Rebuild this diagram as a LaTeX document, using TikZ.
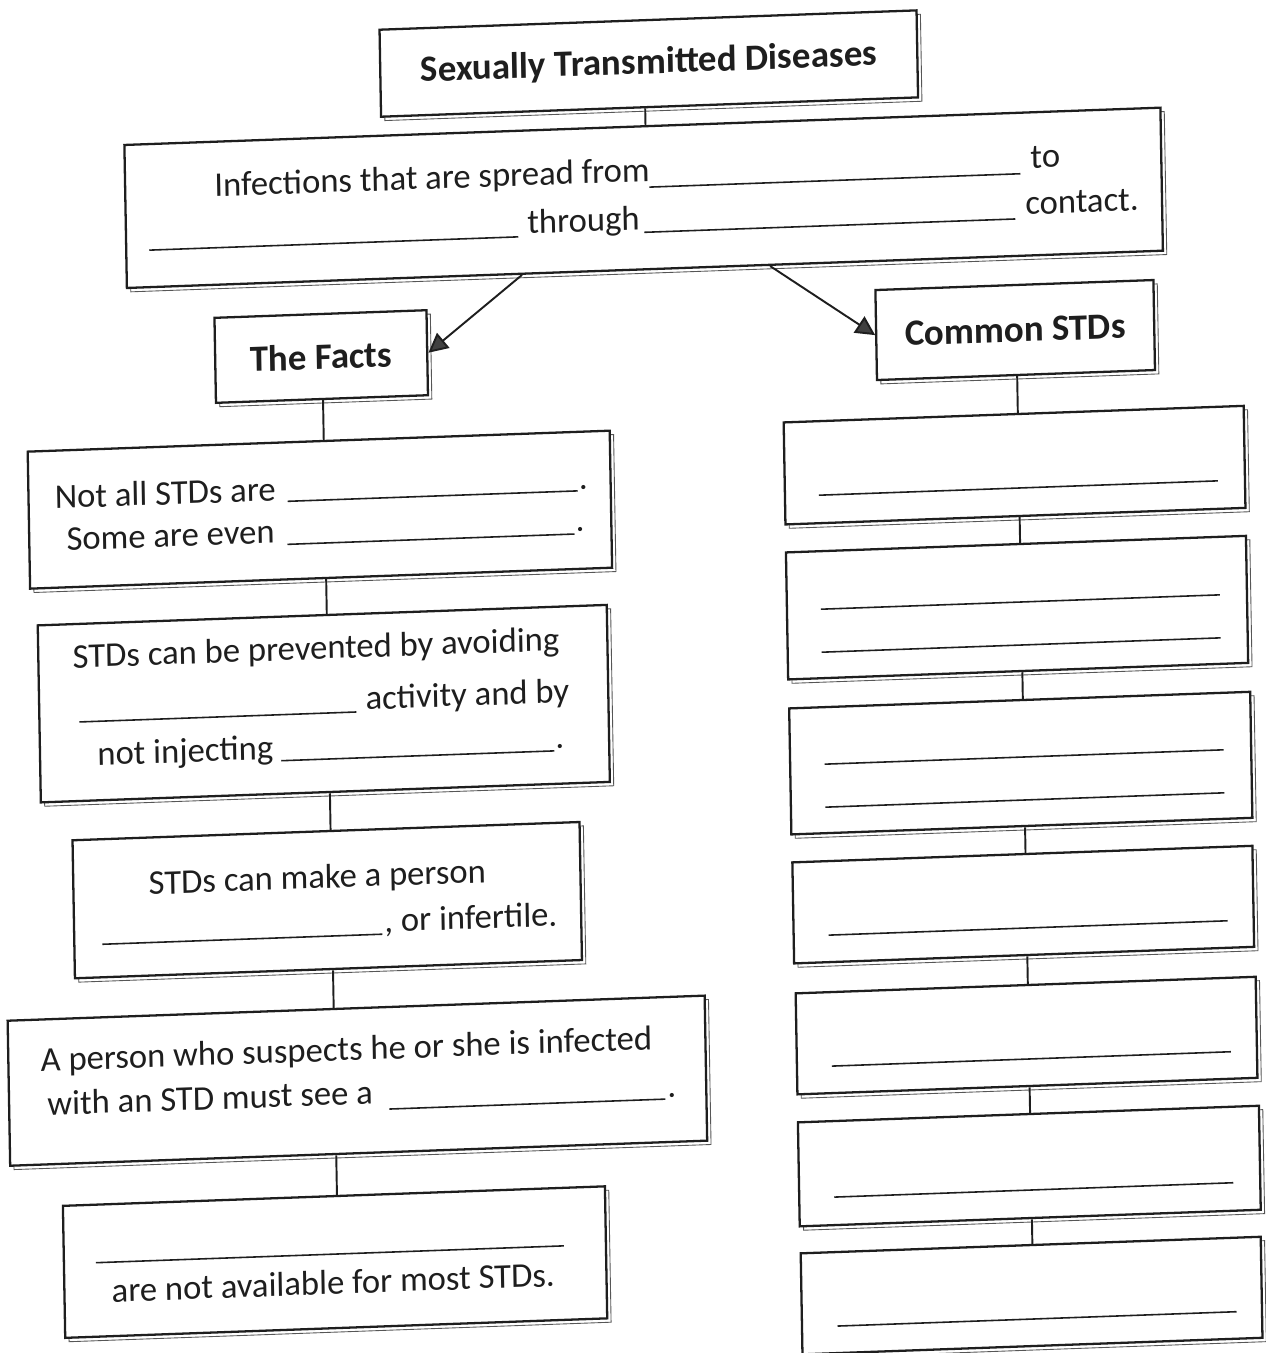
\documentclass[tikz,border=0pt]{standalone}
\usepackage{fontspec}
\setmainfont{Carlito}
\usetikzlibrary{arrows.meta,shadows}
\definecolor{ink}{HTML}{1E1E1E}
\tikzset{
  box/.style={draw=ink, line width=1.3pt, fill=white, inner sep=0pt,
    general shadow={shadow xshift=2.2pt, shadow yshift=-2.2pt, draw=ink!75, line width=0.5pt, fill=white}},
  bx/.style 2 args={minimum width=#1*0.02cm, minimum height=#2*0.02cm},
  head/.style={font=\fontsize{21}{24}\selectfont\bfseries, text=ink},
  body/.style={font=\fontsize{19.7}{24}\selectfont, text=ink, anchor=base west, inner sep=0pt},
  blank/.style={draw=ink, line width=0.9pt},
  link/.style={draw=ink, line width=1.1pt},
  arr/.style={draw=ink, line width=1.1pt, -{Triangle[length=11pt, width=11pt, fill=ink!85]}},
}
\begin{document}
\begin{tikzpicture}[x=0.02cm, y=-0.02cm]
\useasboundingbox (0,0) rectangle (1266,1353);
\begin{scope}[cm={1,0.036,-0.0175,1,(-0.2366cm,-0.4558cm)}, transform shape]
  % boxes
  \node[box, bx={537}{87}, head] (title) at (659.5,64.5) {Sexually Transmitted Diseases};
  \node[box, bx={1036}{143}] (def) at (652,198.5) {};
  \node[box, bx={212}{85}, head] (facts) at (327,345.5) {The Facts};
  \node[box, bx={278}{90}, head] (common) at (1021,344) {Common STDs};
  \node[box, bx={582}{137}] (l1) at (323,498.5) {};
  \node[box, bx={569}{177}] (l2) at (323.5,692.5) {};
  \node[box, bx={507}{138}] (l3) at (323.5,889) {};
  \node[box, bx={697}{145}] (l4) at (350.5,1070.5) {};
  \node[box, bx={542}{132}] (l5) at (325,1251) {};
  \node[box, bx={460}{102}] (r1) at (1018,479) {};
  \node[box, bx={460}{127}] (r2) at (1018,621.5) {};
  \node[box, bx={461}{126}] (r3) at (1019,777) {};
  \node[box, bx={460}{101}] (r4) at (1019,918.5) {};
  \node[box, bx={460}{101}] (r5) at (1020,1049.5) {};
  \node[box, bx={461}{104}] (r6) at (1020.5,1180) {};
  \node[box, bx={460}{101}] (r7) at (1020.5,1309.5) {};
  % definition text
  \node[body] (d1) at (223,182) {Infections that are spread from};
  \draw[blank] (658,188) -- (1029,188);
  \node[body] (d2) at (1039,183) {to};
  \draw[blank] (157,233) -- (526,233);
  \node[body] (d3) at (535,230) {through};
  \draw[blank] (652,233) -- (1023,233);
  \node[body] (d4) at (1033,229) {contact.};
  % left texts
  \node[body] (t1a) at (58,488) {Not all STDs are};
  \draw[blank] (291,489) -- (581,489);
  \node[body] (t1b) at (582,488) {.};
  \node[body] (t1c) at (69,530) {Some are even};
  \draw[blank] (290,532) -- (577,532);
  \node[body] (t1d) at (578,530) {.};
  \node[body] (t2a) at (73,648) {STDs can be prevented by avoiding};
  \draw[blank] (79,702) -- (356,702);
  \node[body] (t2b) at (365,700) {activity and by};
  \node[body] (t2c) at (96,746) {not injecting};
  \draw[blank] (280,748) -- (553,748);
  \node[body] (t2d) at (554,746) {.};
  \node[body] (t3a) at (145,877) {STDs can make a person};
  \draw[blank] (98,925) -- (378,925);
  \node[body] (t3b) at (380,923) {, or infertile.};
  \node[body] (t4a) at (34,1050) {A person who suspects he or she is infected};
  \node[body] (t4b) at (40,1094) {with an STD must see a};
  \draw[blank] (382,1100) -- (658,1100);
  \node[body] (t4c) at (660,1098) {.};
  \draw[blank] (86,1243) -- (554,1243);
  \node[body] (t5a) at (101,1283) {are not available for most STDs.};
  % right blanks
  \draw[blank] (822,502) -- (1221,502);
  \draw[blank] (822,616) -- (1221,616);
  \draw[blank] (822,659) -- (1221,659);
  \draw[blank] (823,771) -- (1222,771);
  \draw[blank] (823,814) -- (1222,814);
  \draw[blank] (824,942) -- (1223,942);
  \draw[blank] (825,1073) -- (1224,1073);
  \draw[blank] (825,1204) -- (1224,1204);
  \draw[blank] (826,1333) -- (1225,1333);
  % connectors
  \coordinate (tx) at (655,0);
  \coordinate (lx) at (328,0);
  \coordinate (rx) at (1022,0);
  \coordinate (ax1) at (529,0);
  \coordinate (ax2) at (777,0);
  \draw[link] (title.south -| tx) -- (def.north -| tx);
  \draw[arr] (def.south -| ax1) -- (facts.east);
  \draw[arr] (def.south -| ax2) -- (common.west);
  \draw[link] (facts.south -| lx) -- (l1.north -| lx);
  \draw[link] (l1.south -| lx) -- (l2.north -| lx);
  \draw[link] (l2.south -| lx) -- (l3.north -| lx);
  \draw[link] (l3.south -| lx) -- (l4.north -| lx);
  \draw[link] (l4.south -| lx) -- (l5.north -| lx);
  \draw[link] (common.south -| rx) -- (r1.north -| rx);
  \draw[link] (r1.south -| rx) -- (r2.north -| rx);
  \draw[link] (r2.south -| rx) -- (r3.north -| rx);
  \draw[link] (r3.south -| rx) -- (r4.north -| rx);
  \draw[link] (r4.south -| rx) -- (r5.north -| rx);
  \draw[link] (r5.south -| rx) -- (r6.north -| rx);
  \draw[link] (r6.south -| rx) -- (r7.north -| rx);
\end{scope}
\end{tikzpicture}
\end{document}
